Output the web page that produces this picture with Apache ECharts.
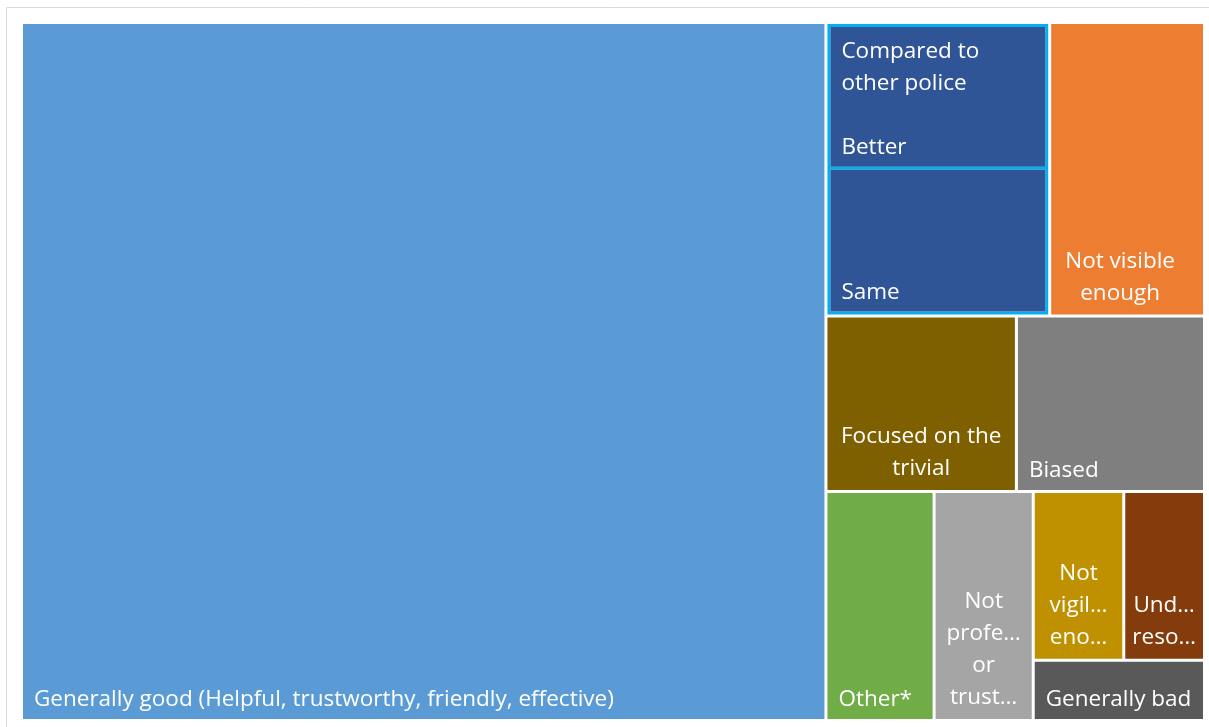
<!DOCTYPE html>
<html>
<head>
<meta charset="utf-8">
<title>Views of the police</title>
<script src="https://cdn.jsdelivr.net/npm/echarts@6/dist/echarts.min.js"></script>
<style>
    html, body { margin: 0; padding: 0; background: #ffffff; }
    #chart { width: 1209px; height: 727px; }
</style>
</head>
<body>
<div id="chart"></div>
<script>
// share of answers (%)
var categories = ['Generally good (Helpful, trustworthy, friendly, effective)', 'Better', 'Same',
    'Not visible enough', 'Focused on the trivial', 'Biased', 'Other*',
    'Not professional or trustworthy', 'Not vigilant enough', 'Under resourced', 'Generally bad'];
var shares = [68.0, 3.95, 4.0, 5.5, 4.05, 4.0, 3.0, 2.75, 1.85, 1.65, 1.25];
// text as it is shown in each tile (long names are cut like in the original)
var tileLabels = ['Generally good (Helpful, trustworthy, friendly, effective)', 'Better', 'Same',
    'Not visible\nenough', 'Focused on the\ntrivial', 'Biased', 'Other*',
    'Not\nprofe\u2026\nor\ntrust\u2026', 'Not\nvigil\u2026\neno\u2026', 'Und\u2026\nreso\u2026', 'Generally bad'];
var colors = ['#5B9BD5', '#2F5597', '#2F5597', '#ED7D31', '#7F6000', '#7F7F7F', '#70AD47',
    '#A5A5A5', '#BF9000', '#843C0C', '#595959'];
var groupName = 'Compared to other police';
var groupLabel = 'Compared to\nother police';

function drawTreemap() {
    var myChart = echarts.init(document.getElementById('chart'));
    // tiles whose wrapped lines are centred on each other, with their text padding
    var centered = {
        3: [0, 22, 5, 8],
        4: [0, 5, 5, 5],
        7: [0, 5, 5, 5],
        8: [0, 5, 5, 5],
        9: [0, 5, 5, 5]
    };

    function leaf(i) {
        var text = tileLabels[i];
        if (i === 1) {
            text = groupLabel + '\n\n' + text;
        }
        var node = {
            name: categories[i],
            value: shares[i],
            itemStyle: {color: colors[i]},
            label: {formatter: text}
        };
        if (centered[i]) {
            node.label.position = 'insideBottom';
            node.label.align = 'center';
            node.label.padding = centered[i];
        }
        return node;
    }

    // plain boxes only group tiles the way the original layout splits them
    function box(children) {
        return {name: '', itemStyle: {borderWidth: 0, borderColor: '#ffffff'}, children: children};
    }

    var tree = [
        leaf(0),
        box([
            box([
                {
                    name: groupName,
                    itemStyle: {borderColor: '#00B0F0', borderWidth: 3, gapWidth: 3},
                    children: [leaf(1), leaf(2)]
                },
                leaf(3)
            ]),
            box([
                box([leaf(4), leaf(5)]),
                box([
                    leaf(6),
                    box([
                        leaf(7),
                        box([box([leaf(8), leaf(9)]), leaf(10)])
                    ])
                ])
            ])
        ])
    ];

    var option = {
        animation: false,
        graphic: [{
            type: 'rect',
            shape: {x: 6.5, y: 7.5, width: 1220, height: 740},
            style: {fill: 'none', stroke: '#d9d9d9', lineWidth: 1},
            silent: true
        }],
        series: [{
            type: 'treemap',
            left: 23,
            top: 24,
            width: 1180,
            height: 695,
            roam: false,
            nodeClick: false,
            sort: false,
            squareRatio: 1,
            breadcrumb: {show: false},
            itemStyle: {gapWidth: 3, borderWidth: 0, borderColor: '#ffffff'},
            upperLabel: {show: false},
            label: {
                show: true,
                position: 'insideBottomLeft',
                distance: 0,
                padding: [0, 5, 3, 11],
                color: '#ffffff',
                fontFamily: '"Segoe UI", "Open Sans", "Noto Sans", sans-serif',
                fontSize: 22.5,
                lineHeight: 32
            },
            data: tree
        }]
    };

    myChart.setOption(option);
}

drawTreemap();
</script>
</body>
</html>
